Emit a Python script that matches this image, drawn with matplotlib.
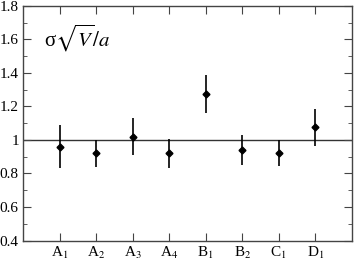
import matplotlib
matplotlib.use('Agg')
import matplotlib.pyplot as plt
from matplotlib.ticker import MultipleLocator

labels = ['A$_1$', 'A$_2$', 'A$_3$', 'A$_4$', 'B$_1$', 'B$_2$', 'C$_1$', 'D$_1$']
values = [0.96, 0.92, 1.02, 0.92, 1.274, 0.94, 0.924, 1.076]
errors = [0.13, 0.08, 0.11, 0.085, 0.113, 0.09, 0.077, 0.11]
yticks = [0.4, 0.6, 0.8, 1.0, 1.2, 1.4, 1.6, 1.8]
yticklabels = ['0.4', '0.6', '0.8', '1', '1.2', '1.4', '1.6', '1.8']

plt.rcParams['font.family'] = 'Liberation Serif'
plt.rcParams['mathtext.fontset'] = 'stix'

fig = plt.figure(figsize=(3.54, 2.60), dpi=100)
ax = fig.add_axes([0.065, 0.075, 0.929, 0.902])

x = list(range(1, len(values) + 1))
ax.axhline(1.0, color='#333333', lw=1.0, zorder=1)
ax.errorbar(x, values, yerr=errors, fmt='D', color='black', ms=3.5,
            elinewidth=1.2, capsize=0, zorder=3)

ax.set_xlim(0, 9)
ax.set_ylim(0.4, 1.8)
ax.set_xticks(x)
ax.set_xticklabels(labels)
ax.set_yticks(yticks)
ax.set_yticklabels(yticklabels)
ax.yaxis.set_minor_locator(MultipleLocator(0.1))
ax.tick_params(which='both', direction='in', top=True, right=True,
               labelsize=11, color='#444444', pad=3)
ax.tick_params(which='major', length=6)
ax.tick_params(which='minor', length=3)
for s in ax.spines.values():
    s.set_color('#444444')
    s.set_linewidth(1.0)

ax.text(0.065, 0.86, r'σ$\sqrt{V}/a$', transform=ax.transAxes,
        fontsize=15, va='center', ha='left')

fig.savefig('out.png', dpi=100)
